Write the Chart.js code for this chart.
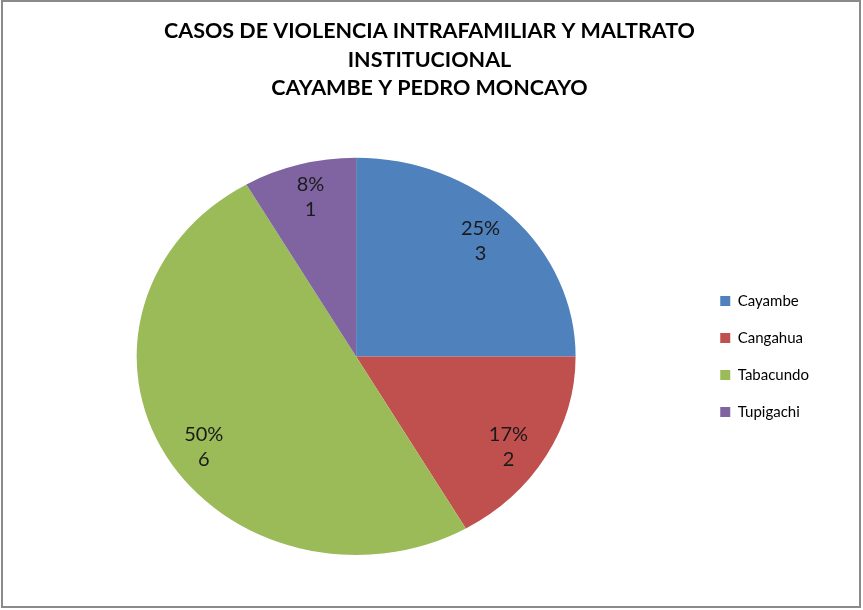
<!DOCTYPE html>
<html>
<head>
<meta charset="utf-8">
<script src="https://cdn.jsdelivr.net/npm/chart.js@4/dist/chart.umd.min.js"></script>
<style>
  html, body { margin: 0; padding: 0; background: #fff; }
  canvas { display: block; }
</style>
</head>
<body>
<canvas id="pieChart" width="863" height="610"></canvas>
<script>
// Datos del gráfico
const titleLines = ['CASOS DE VIOLENCIA INTRAFAMILIAR Y MALTRATO', 'INSTITUCIONAL', 'CAYAMBE Y PEDRO MONCAYO'];
const categories = ['Cayambe', 'Cangahua', 'Tabacundo', 'Tupigachi'];
const cases = [3, 2, 6, 1];
const sliceColors = ['#4F81BD', '#C0504D', '#9BBB59', '#8064A2'];

const xStretch = 1.105; // el pastel original es un poco ovalado

// Ajusta la posición del título y de la leyenda tras el layout
const boxNudge = {
    id: 'boxNudge',
    afterLayout(chart) {
        const area = chart.chartArea;
        const lg = chart.legend;
        lg.top = area.top;
        lg.bottom = area.bottom;
        lg.height = area.bottom - area.top;
        const tb = chart.titleBlock;
        tb.left += 13;
        tb.right += 13;
    }
};

// Estira el pastel en horizontal alrededor de su centro
const ovalPie = {
    id: 'ovalPie',
    beforeDatasetsDraw(chart) {
        const arc = chart.getDatasetMeta(0).data[0];
        const ctx = chart.ctx;
        ctx.save();
        ctx.translate(arc.x, arc.y);
        ctx.scale(xStretch, 1);
        ctx.translate(-arc.x, -arc.y);
    },
    afterDatasetsDraw(chart) {
        chart.ctx.restore();
    }
};

// Etiquetas de porcentaje y valor dentro de cada sector
const sliceLabels = {
    id: 'sliceLabels',
    afterDraw(chart) {
        const ctx = chart.ctx;
        const values = chart.data.datasets[0].data;
        const total = values.reduce((a, b) => a + b, 0);
        chart.getDatasetMeta(0).data.forEach((arc, i) => {
            const mid = (arc.startAngle + arc.endAngle) / 2;
            const r = arc.outerRadius * 0.86;
            const x = arc.x + Math.cos(mid) * r * 1.03;
            const y = arc.y + Math.sin(mid) * r + 5;
            ctx.save();
            ctx.fillStyle = '#1a1a1a';
            ctx.font = '20px Lato';
            ctx.textAlign = 'center';
            ctx.textBaseline = 'middle';
            ctx.fillText(Math.round(values[i] / total * 100) + '%', x, y - 12);
            ctx.fillText(String(values[i]), x, y + 13);
            ctx.restore();
        });
        // marco gris del gráfico
        ctx.save();
        ctx.strokeStyle = '#8a8a8a';
        ctx.lineWidth = 2;
        ctx.strokeRect(2, 1, 858, 606);
        ctx.restore();
    }
};

const ctx = document.getElementById('pieChart').getContext('2d');
new Chart(ctx, {
    type: 'pie',
    data: {
        labels: categories,
        datasets: [{
            data: cases,
            backgroundColor: sliceColors,
            borderWidth: 0
        }]
    },
    options: {
        responsive: false,
        animation: false,
        layout: {
            padding: { left: 14, right: 44, top: 0, bottom: 55 }
        },
        plugins: {
            title: {
                display: true,
                text: titleLines,
                color: '#000',
                font: { family: 'Lato', size: 21.5, weight: 'bold', lineHeight: 1.33 },
                padding: { top: 17, bottom: 55 }
            },
            legend: {
                position: 'right',
                labels: {
                    color: '#000',
                    font: { family: 'Lato', size: 15 },
                    boxWidth: 10,
                    boxHeight: 10,
                    padding: 22
                }
            },
            tooltip: { enabled: false }
        }
    },
    plugins: [boxNudge, ovalPie, sliceLabels]
});
</script>
</body>
</html>
